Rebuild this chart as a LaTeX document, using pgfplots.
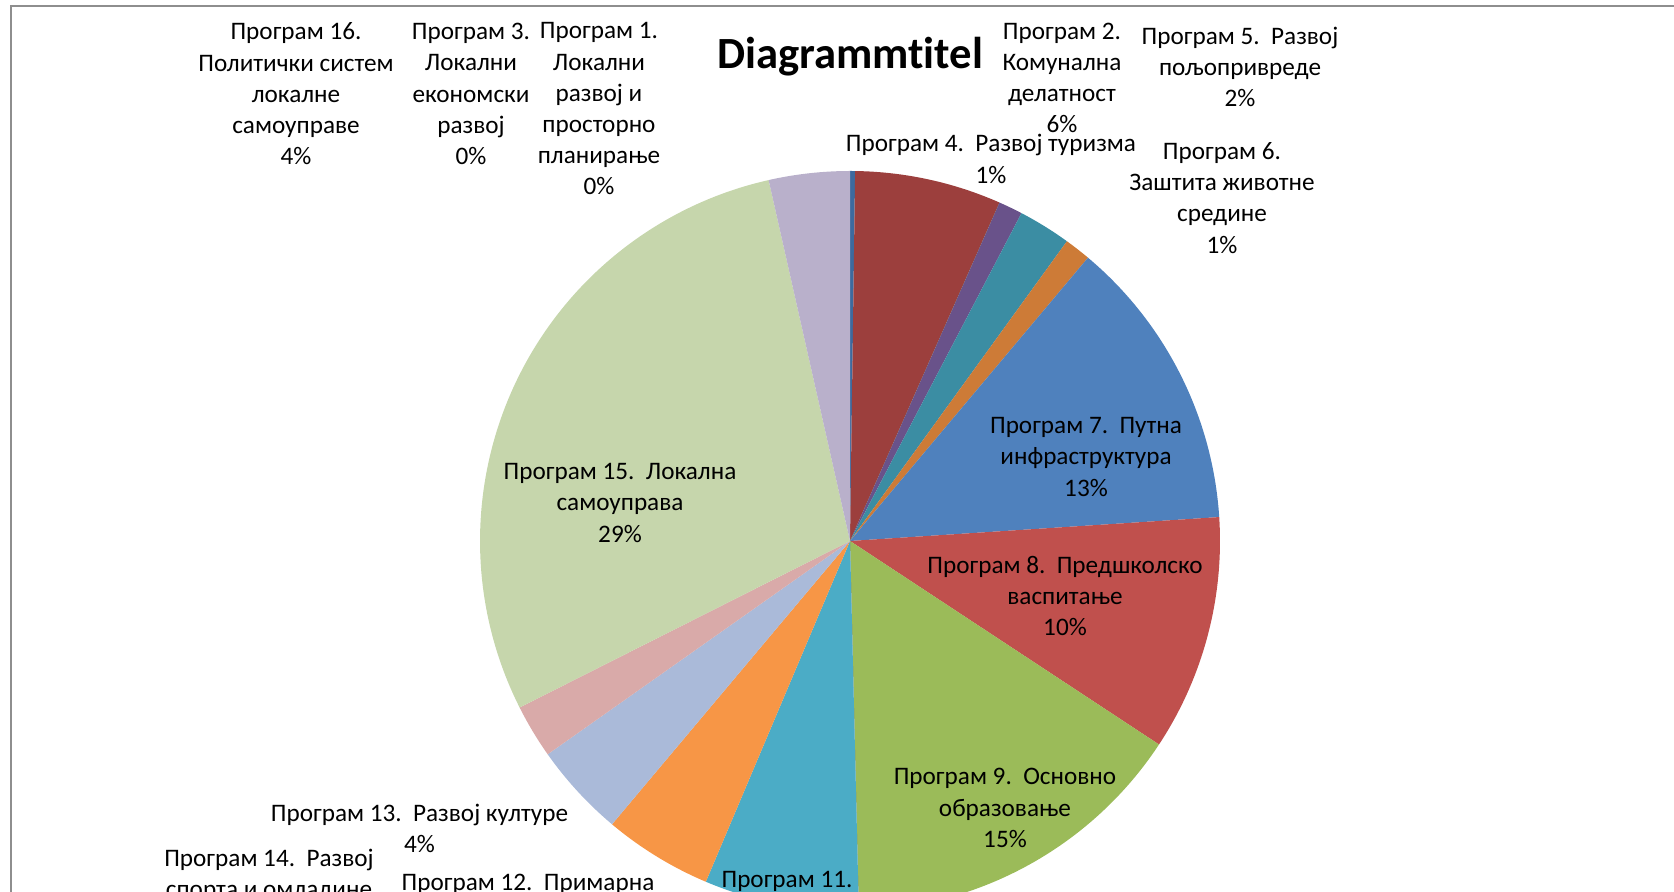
\documentclass[border=0pt]{standalone}
\usepackage{fontspec}
\setmainfont{Carlito}[Ligatures=NoCommon]
\usepackage{pgfplots}
\usepackage{pgfplotstable}
\pgfplotsset{compat=1.18}
\definecolor{c1}{HTML}{3D6A9E}
\definecolor{c2}{HTML}{9C3F3D}
\definecolor{c3}{HTML}{77933C}
\definecolor{c4}{HTML}{69528A}
\definecolor{c5}{HTML}{3B8DA3}
\definecolor{c6}{HTML}{CD7B37}
\definecolor{c7}{HTML}{4F81BD}
\definecolor{c8}{HTML}{C0504D}
\definecolor{c9}{HTML}{9BBB59}
\definecolor{c10}{HTML}{8064A2}
\definecolor{c11}{HTML}{4BACC6}
\definecolor{c12}{HTML}{F79646}
\definecolor{c13}{HTML}{AABAD9}
\definecolor{c14}{HTML}{D9AAA9}
\definecolor{c15}{HTML}{C6D6AC}
\definecolor{c16}{HTML}{B9B0CB}
\definecolor{frame}{HTML}{8E8E8E}
\pgfplotstableread{
prog val col
1 0.22 c1
2 6.40 c2
3 0.00 c3
4 1.05 c4
5 2.30 c5
6 1.15 c6
7 12.85 c7
8 10.30 c8
9 15.35 c9
10 0.00 c10
11 6.75 c11
12 4.75 c12
13 4.10 c13
14 2.35 c14
15 28.90 c15
16 3.53 c16
}\piedata
\begin{document}
\begin{tikzpicture}[lab/.style={align=center, inner sep=0pt, font=\fontsize{12.6}{15.6}\selectfont}]
\begin{axis}[name=ax, at={(0,0)}, anchor=south west, scale only axis,
  width=837pt, height=446pt, xmin=0, xmax=1674, ymin=0, ymax=892,
  hide axis, clip=true]
\pgfplotstablegetrowsof{\piedata}
\pgfmathtruncatemacro\N{\pgfplotsretval-1}
\def\cum{0}
\pgfplotsforeachungrouped \i in {0,...,\N}{%
  \pgfplotstablegetelem{\i}{val}\of\piedata \let\v\pgfplotsretval
  \pgfplotstablegetelem{\i}{col}\of\piedata \let\c\pgfplotsretval
  \pgfmathsetmacro\a{90-\cum*3.6}%
  \pgfmathsetmacro\cumnew{\cum+\v}%
  \pgfmathsetmacro\b{90-\cumnew*3.6}%
  \edef\temp{\noexpand\fill[fill=\c] (axis cs:850,351) -- ++(\a:185pt) arc[start angle=\a, end angle=\b, radius=185pt] -- cycle;}%
  \temp
  \global\let\cum\cumnew
}
\draw[line width=1pt, frame] (axis cs:11,-10) -- (axis cs:11,886) -- (axis cs:1690,886);
\node[anchor=base, font=\fontsize{22.3}{26}\selectfont\bfseries] at (axis cs:850,823.7) {Diagrammtitel};
\node[lab] at (axis cs:296,798) {Програм 16.\\Политички систем\\локалне\\самоуправе\\4\%};
\node[lab] at (axis cs:471,798) {Програм 3.\\Локални\\економски\\развој\\0\%};
\node[lab] at (axis cs:599,783) {Програм 1.\\Локални\\развој и\\просторно\\планирање\\0\%};
\node[lab] at (axis cs:1062,814) {Програм 2.\\Комунална\\делатност\\6\%};
\node[lab] at (axis cs:1240,825) {Програм 5.\ \ Развој\\пољопривреде\\2\%};
\node[lab] at (axis cs:991,733) {Програм 4.\ \ Развој туризма\\1\%};
\node[lab] at (axis cs:1222,694) {Програм 6.\\Заштита животне\\средине\\1\%};
\node[lab] at (axis cs:1086,435) {Програм 7.\ \ Путна\\инфраструктура\\13\%};
\node[lab] at (axis cs:620,389) {Програм 15.\ \ Локална\\самоуправа\\29\%};
\node[lab] at (axis cs:1065,296) {Програм 8.\ \ Предшколско\\васпитање\\10\%};
\node[lab] at (axis cs:1005,84) {Програм 9.\ \ Основно\\образовање\\15\%};
\node[lab] at (axis cs:419.5,63.5) {Програм 13.\ \ Развој културе\\4\%};
\node[lab] at (axis cs:269,3) {Програм 14.\ \ Развој\\спорта и омладине\\2\%};
\node[lab] at (axis cs:528,-22) {Програм 12.\ \ Примарна\\здравствена заштита\\5\%};
\node[lab] at (axis cs:787,-34) {Програм 11.\\Социјална и\\дечја заштита\\7\%};
\end{axis}
\pgfresetboundingbox
\path[use as bounding box] (ax.south west) rectangle (ax.north east);
\end{tikzpicture}
\end{document}
